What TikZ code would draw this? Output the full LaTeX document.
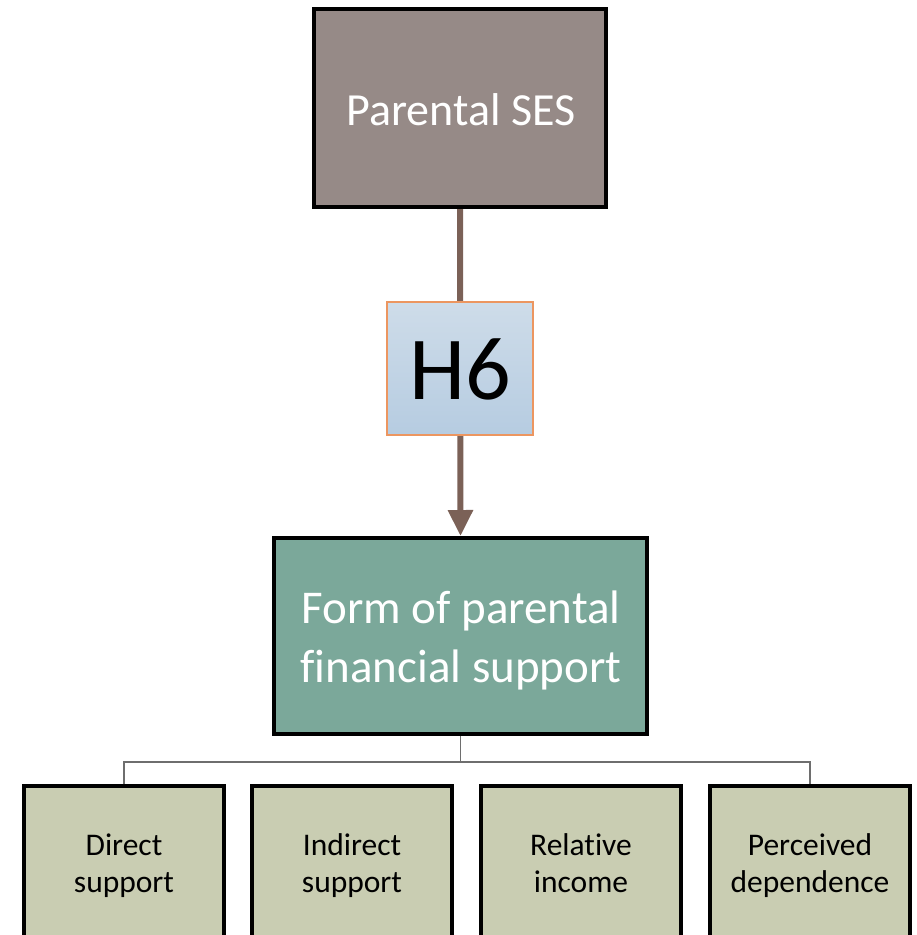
\documentclass[tikz,border=0pt]{standalone}
\usepackage{fontspec}
\setmainfont{Carlito}[Ligatures=NoCommon]
\usetikzlibrary{arrows.meta}
\definecolor{sesfill}{HTML}{968A87}
\definecolor{formfill}{HTML}{7BA89A}
\definecolor{leaffill}{HTML}{C9CDB2}
\definecolor{arrowbrown}{HTML}{7B6157}
\definecolor{hborder}{HTML}{EC9660}
\definecolor{htop}{HTML}{CEDCE9}
\definecolor{hbot}{HTML}{B6CCE1}
\definecolor{treeline}{HTML}{6E6E6E}
\tikzset{
  bigbox/.style={draw=black, line width=4pt, inner sep=0pt},
  leafbox/.style={bigbox, fill=leaffill, minimum width=200pt, minimum height=160pt},
  leaftext/.style={anchor=base, inner sep=0pt, font=\fontsize{31.5}{37}\selectfont, text=black},
  bigtext/.style={anchor=base, inner sep=0pt, text=white},
  hbox/.style={draw=hborder, line width=1.6pt, top color=htop, bottom color=hbot,
    minimum width=146pt, minimum height=133pt, inner sep=0pt},
  mainarrow/.style={draw=arrowbrown, line width=6pt, -{Triangle[width=24pt,length=26pt]}},
  tree/.style={draw=treeline, line width=1.2pt}
}
\begin{document}
\begin{tikzpicture}[x=1pt,y=-1pt]
\useasboundingbox (0,0) rectangle (917,935);
\clip (0,0) rectangle (917,935);
\node[bigbox, fill=sesfill, minimum width=292pt, minimum height=198pt] (ses) at (460,108) {};
\node[bigtext, font=\fontsize{46}{50}\selectfont] (sest) at (461,125) {Parental SES};
\node[bigbox, fill=formfill, minimum width=373pt, minimum height=196pt] (form) at (460.5,636) {};
\node[bigtext, font=\fontsize{47}{59}\selectfont] (formt1) at (461,623) {Form of parental};
\node[bigtext, font=\fontsize{47}{59}\selectfont] (formt2) at (461,682) {financial support};
\draw[mainarrow] (ses.south) -- (form.north);
\node[hbox] (h6) at (460,368.5) {};
\node[anchor=base, inner sep=0pt, font=\fontsize{90}{90}\selectfont] (h6t) at (460,399) {H6};
\node[leafbox] (l1) at (124,866) {};
\node[leafbox] (l2) at (352,866) {};
\node[leafbox] (l3) at (581,866) {};
\node[leafbox] (l4) at (810,866) {};
\node[leaftext] (l1a) at (124,855) {Direct};
\node[leaftext] (l1b) at (124,892) {support};
\node[leaftext] (l2a) at (352,855) {Indirect};
\node[leaftext] (l2b) at (352,892) {support};
\node[leaftext] (l3a) at (581,855) {Relative};
\node[leaftext] (l3b) at (581,892) {income};
\node[leaftext] (l4a) at (810,855) {Perceived};
\node[leaftext] (l4b) at (810,892) {dependence};
\coordinate (split) at (460.5,762);
\draw[tree] (form.south) -- (split);
\draw[tree] (l1.north) |- (split) -| (l4.north);
\end{tikzpicture}
\end{document}
